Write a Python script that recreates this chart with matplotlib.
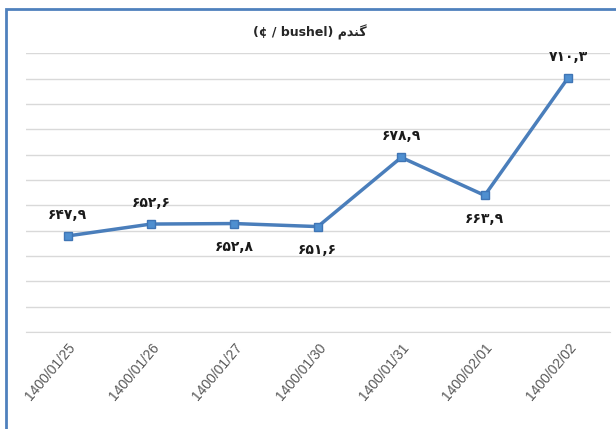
import matplotlib.pyplot as plt
import matplotlib.patches as patches

plt.rcParams['font.family'] = ['DejaVu Sans']

# تاریخ‌ها و قیمت گندم (سنت بر بوشل)
dates = ['1400/01/25', '1400/01/26', '1400/01/27', '1400/01/30',
         '1400/01/31', '1400/02/01', '1400/02/02']
prices = [647.9, 652.6, 652.8, 651.6, 678.9, 663.9, 710.3]
# برچسب‌ها بالا یا پایین نقطه
label_side = ['up', 'up', 'down', 'down', 'up', 'down', 'up']

fa_digits = str.maketrans('0123456789', '۰۱۲۳۴۵۶۷۸۹')


def fa_num(v):
    return ('%.1f' % v).replace('.', ',').translate(fa_digits)


fig = plt.figure(figsize=(6.16, 4.29), dpi=100)
ax = fig.add_axes([0.042, 0.226, 0.948, 0.650])

X = range(len(prices))
ax.plot(X, prices, color='#4a7ebb', lw=2.5, marker='s', ms=5.5,
        mfc='#4f8fd0', mec='#3f75b5', zorder=3)

ax.set_xlim(-0.5, len(prices) - 0.5)
ax.set_ylim(610, 720)
ax.set_yticks(range(610, 721, 10))
ax.yaxis.grid(True, color='#d9d9d9', lw=1)
ax.set_axisbelow(True)
ax.tick_params(axis='y', left=False, labelleft=False)
ax.tick_params(axis='x', length=0, pad=6)
for s in ['top', 'left', 'right']:
    ax.spines[s].set_visible(False)
ax.spines['bottom'].set_color('#d9d9d9')

ax.set_xticks(list(X))
ax.set_xticklabels(dates, rotation=50, ha='right', rotation_mode='anchor',
                   fontsize=10, color='#595959', family='Liberation Sans')

for x, y, side in zip(X, prices, label_side):
    dy = 10 if side == 'up' else -12
    va = 'bottom' if side == 'up' else 'top'
    ax.annotate(fa_num(y), (x, y), xytext=(0, dy), textcoords='offset points',
                ha='center', va=va, fontsize=10, fontweight='bold', color='#1a1a1a')

# عنوان: گندم با شکل‌های نمایشی
title_fa = '\uFEE1\uFEAA\uFEE8\uFB94'
fig.text(0.503, 0.925, '(¢ / bushel) ' + title_fa, ha='center', va='center',
         fontsize=9, fontweight='bold', color='#262626')

# قاب آبی
fig.patches.append(patches.Rectangle((0.01, -0.05), 1.2, 1.03, transform=fig.transFigure,
                                     fill=False, edgecolor='#4f81bd', lw=2))

fig.savefig('out.png', dpi=100)
